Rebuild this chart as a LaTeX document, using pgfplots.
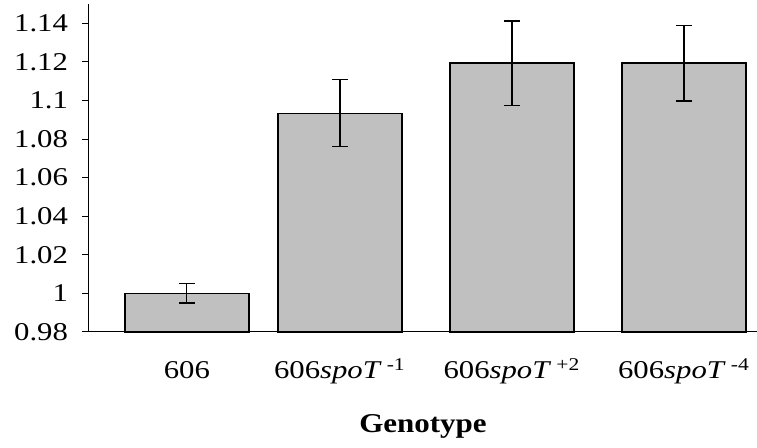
\documentclass[border=0pt]{standalone}
\usepackage{fontspec}
\setmainfont{Liberation Serif}
\usepackage{graphicx}
\usepackage{pgfplots}
\pgfplotsset{compat=1.18}
\newcommand{\hs}[1]{\scalebox{1.2}[1]{#1}}
\begin{document}
\begin{tikzpicture}
\useasboundingbox (-44.5pt,-58pt) rectangle (334pt,166pt);
\begin{axis}[
  at={(0,0)}, anchor=south west,
  scale only axis, width=334pt, height=164pt,
  xmin=-0.459, xmax=3.424,
  ymin=0.98, ymax=1.15,
  axis lines*=left,
  axis line style={line width=0.5pt, -},
  xtick={0.11,1,2,3},
  xticklabels={\hs{606}, \hs{606\textit{spoT}\,\textsuperscript{-1}}, \hs{606\textit{spoT}\,\textsuperscript{+2}}, \hs{606\textit{spoT}\,\textsuperscript{-4}}},
  x tick style={draw=none},
  ytick={0.98,1.0,1.02,1.04,1.06,1.08,1.1,1.12,1.14},
  yticklabels={\hs{0.98},\hs{1},\hs{1.02},\hs{1.04},\hs{1.06},\hs{1.08},\hs{1.1},\hs{1.12},\hs{1.14}},
  tick align=outside, major tick length=3.5pt,
  y tick style={line width=0.5pt, black},
  tick label style={font=\fontsize{12.8}{15}\selectfont},
  xticklabel style={anchor=base, yshift=-20pt},
  yticklabel style={xshift=-3.5pt},
  xlabel={\scalebox{1.14}[1]{\textbf{Genotype}}},
  xlabel style={font=\fontsize{13.6}{16}\selectfont, at={(axis description cs:0.5,0)}, anchor=base, yshift=-50.5pt},
  clip=false,
]
\addplot[ybar, bar width=0.721, bar shift=0pt, fill={rgb,255:red,192;green,192;blue,192}, draw=black, line width=0.75pt,
  error bars/.cd, y dir=both, y explicit,
  error bar style={line width=0.6pt, black},
  error mark options={rotate=90, mark size=4pt, line width=0.6pt, black}]
coordinates {
  (0.11,1.0) +- (0,0.005)
  (1,1.0932) += (0,0.0176) -= (0,0.0169)
  (2,1.1194) += (0,0.0218) -= (0,0.0220)
  (3,1.1194) += (0,0.0194) -= (0,0.0197)
};
\end{axis}
\end{tikzpicture}
\end{document}
